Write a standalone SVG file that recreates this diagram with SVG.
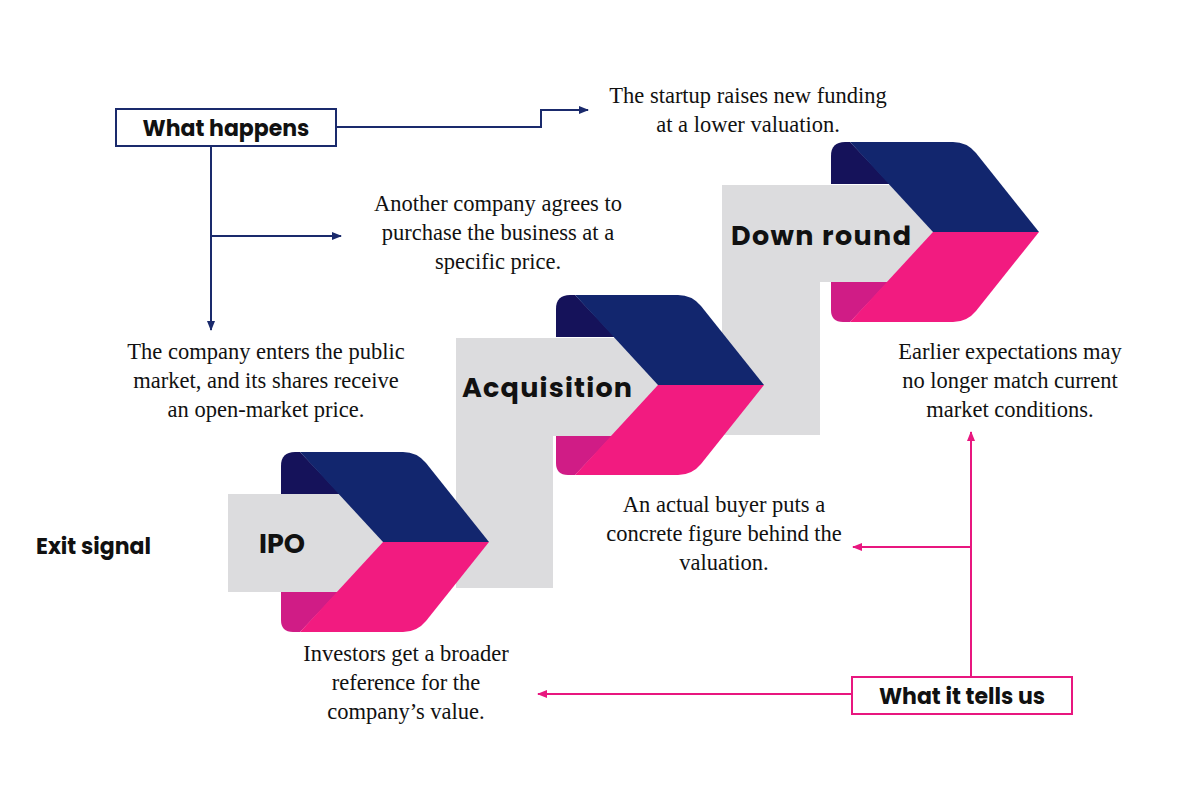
<svg xmlns="http://www.w3.org/2000/svg" width="1200" height="800" viewBox="0 0 1200 800">
<defs>
<style>
.t{font-family:"Liberation Serif",serif;font-size:22.5px;fill:#111;text-anchor:middle}
.b{font-family:Poppins,"Open Sans","Liberation Sans",sans-serif;font-weight:700;fill:#111}
.g{fill:#dcdcde}
.nv{stroke:#1a2a6c;stroke-width:2;fill:none}
.pk{stroke:#e8177f;stroke-width:2;fill:none}
</style>
<marker id="an" markerWidth="10" markerHeight="8" refX="9" refY="4" orient="auto" markerUnits="userSpaceOnUse"><path d="M0,0 L10,4 L0,8 Z" fill="#1a2a6c"/></marker>
<marker id="ap" markerWidth="10" markerHeight="8" refX="9" refY="4" orient="auto" markerUnits="userSpaceOnUse"><path d="M0,0 L10,4 L0,8 Z" fill="#e8177f"/></marker>
<g id="darks">
<path d="M0,14 Q0,0 14,0 L19,0 L59,42 L0,42 Z" fill="#15125a"/>
<path d="M0,138 L59,138 L19,180 L12,180 Q0,180 0,168 Z" fill="#d01c86"/>
</g>
<g id="front">
<path d="M19,0 L122,0 Q136,0 145,11 L208,90 L102,90 Z" fill="#12266e"/>
<path d="M102,90 L208,90 L145,169 Q136,180 122,180 L19,180 Z" fill="#f21b80"/>
</g>
</defs>
<rect width="1200" height="800" fill="#fff"/>
<g id="steps">
<use href="#darks" transform="translate(281,452)"/>
<use href="#darks" transform="translate(556,295)"/>
<use href="#darks" transform="translate(831,142)"/>
<path class="g" d="M228,494 L340,494 L383,542 L340,592 L228,592 Z"/>
<path class="g" d="M456,338 L615,338 L660,386 L615,436 L553,436 L553,588 L456,588 Z"/>
<path class="g" d="M722,185 L890,185 L935,234 L890,282 L820,282 L820,435 L722,435 Z"/>
<use href="#front" transform="translate(281,452)"/>
<use href="#front" transform="translate(556,295)"/>
<use href="#front" transform="translate(831,142)"/>
</g>
<g id="labels">
<text class="b" x="259" y="553" font-size="27">IPO</text>
<text class="b" x="462" y="397" font-size="27" textLength="170">Acquisition</text>
<text class="b" x="731" y="245" font-size="27" textLength="180">Down round</text>
<text class="b" x="36" y="554" font-size="22">Exit signal</text>
</g>
<g id="what-happens">
<rect x="116" y="109" width="220" height="37" fill="#fff" stroke="#1a2a6c" stroke-width="2"/>
<text class="b" x="226" y="136" font-size="22" text-anchor="middle">What happens</text>
</g>
<g id="what-tells">
<rect x="852" y="677" width="220" height="37" fill="#fff" stroke="#e8177f" stroke-width="2"/>
<text class="b" x="962" y="704" font-size="22" text-anchor="middle">What it tells us</text>
</g>
<g id="connectors">
<path class="nv" d="M336,127 L541,127 L541,110 L588,110" marker-end="url(#an)"/>
<path class="nv" d="M211,146 L211,330" marker-end="url(#an)"/>
<path class="nv" d="M211,236 L341,236" marker-end="url(#an)"/>
<path class="pk" d="M971,677 L971,432" marker-end="url(#ap)"/>
<path class="pk" d="M971,547 L853,547" marker-end="url(#ap)"/>
<path class="pk" d="M852,694 L538,694" marker-end="url(#ap)"/>
</g>
<g id="texts">
<text class="t" x="748" y="103">The startup raises new funding</text>
<text class="t" x="748" y="132">at a lower valuation.</text>
<text class="t" x="498" y="211">Another company agrees to</text>
<text class="t" x="498" y="240">purchase the business at a</text>
<text class="t" x="498" y="269">specific price.</text>
<text class="t" x="266" y="359">The company enters the public</text>
<text class="t" x="266" y="388">market, and its shares receive</text>
<text class="t" x="266" y="417">an open-market price.</text>
<text class="t" x="1010" y="359">Earlier expectations may</text>
<text class="t" x="1010" y="388">no longer match current</text>
<text class="t" x="1010" y="417">market conditions.</text>
<text class="t" x="724" y="512">An actual buyer puts a</text>
<text class="t" x="724" y="541">concrete figure behind the</text>
<text class="t" x="724" y="570">valuation.</text>
<text class="t" x="406" y="661">Investors get a broader</text>
<text class="t" x="406" y="690">reference for the</text>
<text class="t" x="406" y="719">company’s value.</text>
</g>
</svg>
